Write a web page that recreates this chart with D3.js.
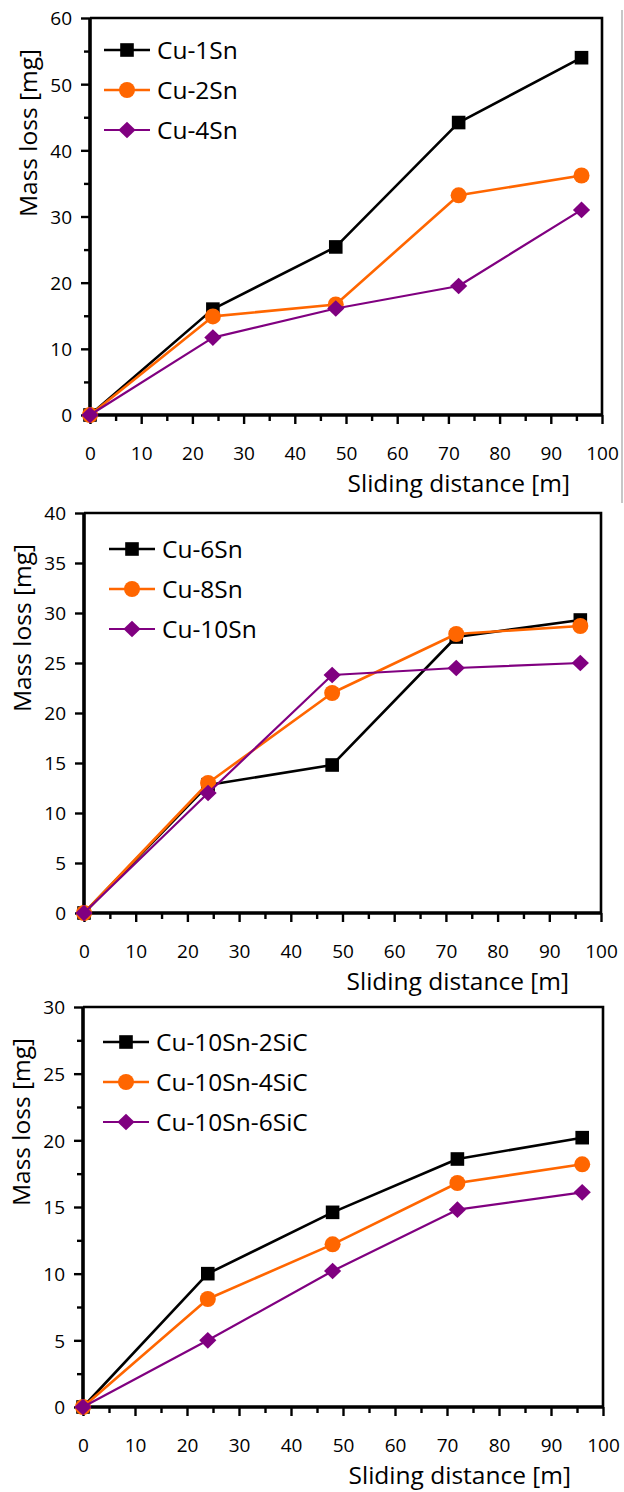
<!DOCTYPE html>
<html>
<head>
<meta charset="utf-8">
<script src="https://d3js.org/d3.v7.min.js"></script>
<style>
  html, body { margin: 0; padding: 0; background: #fff; }
  svg { display: block; }
  text { font-family: "Open Sans", "Noto Sans", sans-serif; fill: #000; }
</style>
</head>
<body>
<svg id="chart" width="624" height="1492"></svg>
<script>
// ---------------- DATA ----------------
const slidingDistance = [0, 24, 48, 72, 96];
const xTicksMajor = [0, 10, 20, 30, 40, 50, 60, 70, 80, 90, 100];

// Panel 1
const names1 = ["Cu-1Sn", "Cu-2Sn", "Cu-4Sn"];
const cu1Sn = [0, 16.0, 25.4, 44.2, 54.0];
const cu2Sn = [0, 14.9, 16.7, 33.2, 36.2];
const cu4Sn = [0, 11.7, 16.1, 19.5, 31.0];
const yTicks1 = [0, 10, 20, 30, 40, 50, 60];

// Panel 2
const names2 = ["Cu-6Sn", "Cu-8Sn", "Cu-10Sn"];
const cu6Sn = [0, 12.8, 14.8, 27.6, 29.3];
const cu8Sn = [0, 13.0, 22.0, 27.9, 28.7];
const cu10Sn = [0, 12.0, 23.8, 24.5, 25.0];
const yTicks2 = [0, 5, 10, 15, 20, 25, 30, 35, 40];

// Panel 3
const names3 = ["Cu-10Sn-2SiC", "Cu-10Sn-4SiC", "Cu-10Sn-6SiC"];
const sic2 = [0, 10.0, 14.6, 18.6, 20.2];
const sic4 = [0, 8.1, 12.2, 16.8, 18.2];
const sic6 = [0, 5.0, 10.2, 14.8, 16.1];
const yTicks3 = [0, 5, 10, 15, 20, 25, 30];

const xTitle = "Sliding distance [m]";
const yTitle = "Mass loss [mg]";

// ---------------- STYLE / LAYOUT ----------------
const colors = ["#000000", "#FF6600", "#800080"];
const shapes = ["square", "circle", "diamond"];
const lineWidths = [2.6, 2.6, 2.2];

const panels = [
  { left: 90, top: 18, right: 602, bottom: 415, yMax: 60, yTicks: yTicks1, yMinor: 5,
    names: names1, series: [cu1Sn, cu2Sn, cu4Sn], legX: 14, legY: 32 },
  { left: 84, top: 513, right: 601, bottom: 913, yMax: 40, yTicks: yTicks2, yMinor: null,
    names: names2, series: [cu6Sn, cu8Sn, cu10Sn], legX: 25, legY: 36 },
  { left: 83, top: 1007, right: 603, bottom: 1407, yMax: 30, yTicks: yTicks3, yMinor: 2.5,
    names: names3, series: [sic2, sic4, sic6], legX: 20, legY: 35 }
];

const svg = d3.select("#chart");

// thin gray separator on the right
svg.append("line")
  .attr("x1", 622).attr("x2", 622).attr("y1", 10).attr("y2", 503)
  .attr("stroke", "#b4b4b4").attr("stroke-width", 1.5);

function drawMarker(g, shape, cx, cy, color) {
  if (shape === "square") {
    g.append("rect").attr("x", cx - 6.8).attr("y", cy - 6.8)
      .attr("width", 13.6).attr("height", 13.6).attr("fill", color);
  } else if (shape === "circle") {
    g.append("circle").attr("cx", cx).attr("cy", cy).attr("r", 8).attr("fill", color);
  } else {
    const p = d3.path();
    p.moveTo(cx, cy - 8.3); p.lineTo(cx + 8.6, cy); p.lineTo(cx, cy + 8.3); p.lineTo(cx - 8.6, cy); p.closePath();
    g.append("path").attr("d", p.toString()).attr("fill", color);
  }
}

panels.forEach(P => {
  const x = d3.scaleLinear().domain([0, 100]).range([P.left, P.right]);
  const y = d3.scaleLinear().domain([0, P.yMax]).range([P.bottom, P.top]);
  const g = svg.append("g");

  // frame (top & right)
  g.append("path")
    .attr("d", `M${P.left},${P.top}H${P.right}V${P.bottom}`)
    .attr("fill", "none").attr("stroke", "#000").attr("stroke-width", 2.6);

  // X minor ticks
  const xMinor = d3.range(5, 100, 10);
  g.append("g").attr("transform", `translate(0,${P.bottom})`)
    .call(d3.axisBottom(x).tickValues(xMinor).tickSize(6).tickFormat(""))
    .call(a => a.select(".domain").remove())
    .call(a => a.selectAll("line").attr("stroke", "#000").attr("stroke-width", 2.4));
  // X major ticks
  g.append("g").attr("transform", `translate(0,${P.bottom})`)
    .call(d3.axisBottom(x).tickValues(xTicksMajor).tickSize(9).tickFormat(d3.format("d")))
    .call(a => a.select(".domain").remove())
    .call(a => a.selectAll("line").attr("stroke", "#000").attr("stroke-width", 2.4))
    .call(a => a.selectAll("text").attr("y", 45).attr("dy", null)
      .style("font-family", '"Open Sans", sans-serif').style("font-size", "19px").attr("fill", "#000"));

  // Y minor ticks
  if (P.yMinor) {
    const yMinor = d3.range(P.yMinor, P.yMax, P.yMinor * 2);
    g.append("g").attr("transform", `translate(${P.left},0)`)
      .call(d3.axisLeft(y).tickValues(yMinor).tickSize(6).tickFormat(""))
      .call(a => a.select(".domain").remove())
      .call(a => a.selectAll("line").attr("stroke", "#000").attr("stroke-width", 2.4));
  }
  // Y major ticks
  g.append("g").attr("transform", `translate(${P.left},0)`)
    .call(d3.axisLeft(y).tickValues(P.yTicks).tickSize(9).tickPadding(9).tickFormat(d3.format("d")))
    .call(a => a.select(".domain").remove())
    .call(a => a.selectAll("line").attr("stroke", "#000").attr("stroke-width", 2.4))
    .call(a => a.selectAll("text").attr("dy", "0.36em")
      .style("font-family", '"Open Sans", sans-serif').style("font-size", "19px").attr("fill", "#000"));

  // thick left & bottom axis lines
  g.append("path")
    .attr("d", `M${P.left},${P.top}V${P.bottom}H${P.right}`)
    .attr("fill", "none").attr("stroke", "#000").attr("stroke-width", 3.6);

  // axis titles
  g.append("text")
    .attr("x", P.right - 32).attr("y", P.bottom + 77)
    .attr("text-anchor", "end")
    .style("font-size", "24.5px")
    .text(xTitle);
  g.append("text")
    .attr("transform", `translate(${P.left - 62},${P.top + 115}) rotate(-90)`)
    .attr("text-anchor", "middle").attr("dy", "0.35em")
    .style("font-size", "24.5px")
    .text(yTitle);

  // series
  const line = d3.line().x(d => x(d[0])).y(d => y(d[1]));
  P.series.forEach((vals, i) => {
    const pts = slidingDistance.map((d, k) => [d, vals[k]]);
    g.append("path").attr("d", line(pts)).attr("fill", "none")
      .attr("stroke", colors[i]).attr("stroke-width", lineWidths[i]).attr("stroke-linejoin", "round");
    pts.forEach(p => drawMarker(g, shapes[i], x(p[0]), y(p[1]), colors[i]));
  });

  // legend
  P.names.forEach((name, i) => {
    const lx = P.left + P.legX, ly = P.top + P.legY + i * 40;
    g.append("line").attr("x1", lx).attr("x2", lx + 46).attr("y1", ly).attr("y2", ly)
      .attr("stroke", colors[i]).attr("stroke-width", lineWidths[i]);
    drawMarker(g, shapes[i], lx + 23, ly, colors[i]);
    g.append("text").attr("x", lx + 53).attr("y", ly).attr("dy", "0.36em")
      .style("font-size", "24.5px").text(name);
  });
});
</script>
</body>
</html>
